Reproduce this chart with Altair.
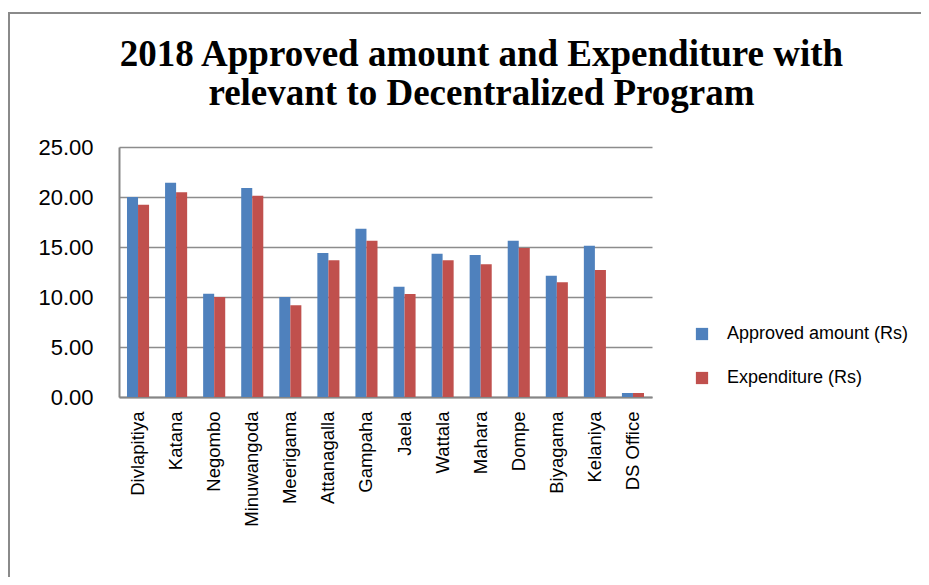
import altair as alt
import pandas as pd

categories = ["Divlapitiya", "Katana", "Negombo", "Minuwangoda", "Meerigama", "Attanagalla",
              "Gampaha", "Jaela", "Wattala", "Mahara", "Dompe", "Biyagama", "Kelaniya", "DS Office"]
approved = [20.0, 21.43, 10.33, 20.9, 10.0, 14.4, 16.83, 11.03, 14.33, 14.2, 15.63, 12.13, 15.13, 0.4]
expenditure = [19.23, 20.47, 10.0, 20.13, 9.17, 13.67, 15.63, 10.3, 13.67, 13.27, 14.9, 11.47, 12.7, 0.4]
series = ["Approved amount (Rs)", "Expenditure (Rs)"]
colors = ["#4F81BD", "#C0504D"]

rows = []
for c, a, e in zip(categories, approved, expenditure):
    rows.append({"District": c, "Series": series[0], "Value": a})
    rows.append({"District": c, "Series": series[1], "Value": e})
df = pd.DataFrame(rows)

W, H = 533, 250
PL, PT = 111, 139
PR = 913 - PL - W
PB = 569 - PT - H

bars = alt.Chart(df).mark_bar().encode(
    x=alt.X("District:N", sort=categories,
            scale=alt.Scale(paddingInner=0.42, paddingOuter=0.21),
            axis=alt.Axis(title=None, labelAngle=-90, labelAlign="right", labelBaseline="middle",
                          labelFontSize=18.5, labelPadding=14, ticks=False,
                          domainColor="#868686", domainWidth=2, labelColor="#000000")),
    xOffset=alt.XOffset("Series:N", sort=series),
    y=alt.Y("Value:Q", scale=alt.Scale(domain=[0, 25]),
            axis=alt.Axis(title=None, values=[0, 5, 10, 15, 20, 25], format=".2f",
                          labelFontSize=22, labelPadding=26, ticks=False,
                          domainColor="#868686", domainWidth=2,
                          gridColor="#8c8c8c", gridWidth=1.5, labelColor="#000000")),
    color=alt.Color("Series:N", sort=series,
                    scale=alt.Scale(domain=series, range=colors),
                    legend=alt.Legend(title=None, orient="none", legendX=574, legendY=178,
                                      symbolType="square", symbolSize=150, symbolStrokeWidth=0,
                                      labelFontSize=18, labelOffset=16, rowPadding=26,
                                      labelLimit=300, labelColor="#000000")),
)

frame = alt.Chart(pd.DataFrame({"k": [0]})).mark_rect(
    fill=None, stroke="#8a8a8a", strokeWidth=2
).encode(
    x=alt.value(-110), x2=alt.value(815), y=alt.value(-134), y2=alt.value(445)
)

chart = alt.layer(frame, bars).properties(
    width=W, height=H,
    autosize=alt.AutoSizeParams(type="none"),
    padding={"left": PL, "top": PT, "right": PR, "bottom": PB},
    title=alt.Title(["2018 Approved amount and Expenditure with",
                     "relevant to Decentralized Program"],
                    font="Liberation Serif", fontSize=37, fontWeight="bold",
                    color="#000000", anchor="middle", dx=96, offset=0, dy=101, lineHeight=39),
).configure(font="Liberation Sans", view=alt.ViewConfig(stroke=None))

chart.save("out.html", embed_options={"renderer": "svg", "actions": False})
